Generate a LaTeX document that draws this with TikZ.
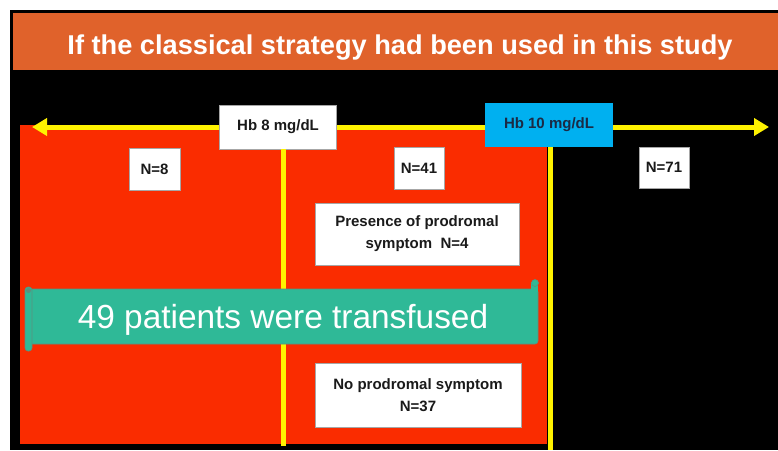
\documentclass[tikz,border=0pt]{standalone}
\usepackage{fontspec}
\setmainfont{Liberation Sans}
\usetikzlibrary{arrows.meta}
\definecolor{SlideOrange}{HTML}{E0622B}
\definecolor{TransRed}{HTML}{FA2C00}
\definecolor{CutYellow}{HTML}{FFF200}
\definecolor{HbCyan}{HTML}{00B0F0}
\definecolor{HbNavy}{HTML}{1B2A45}
\definecolor{ScrollTeal}{HTML}{2FB997}
\definecolor{ScrollEdge}{HTML}{5E8F7E}
\definecolor{BoxText}{HTML}{1A1A1A}

\begin{document}
\begin{tikzpicture}[x=1pt, y=-1pt,
    nbox/.style={draw=gray!70, fill=white, inner sep=0pt, text=BoxText,
                 font=\bfseries\fontsize{15}{22}\selectfont, align=center},
    cutline/.style={draw=CutYellow, line width=5pt}]
    \useasboundingbox (0,0) rectangle (778,450);
    \fill[white] (0,0) rectangle (778,450);
    \fill[black] (10,10) rectangle (778,450);

    % title banner
    \fill[SlideOrange] (13,13) rectangle (778,70);
    \node[anchor=base, inner sep=0pt, text=white, font=\bfseries\fontsize{27.2}{32}\selectfont]
          (title) at (400,54) {If the classical strategy had been used in this study};

    % transfused zone
    \fill[TransRed] (20,125) rectangle (547,444);

    % Hb axis
    \coordinate (axlo) at (32,127);
    \coordinate (axhi) at (769,127);
    \draw[cutline, {Triangle[length=15pt,width=17pt]}-{Triangle[length=15pt,width=17pt]}] (axlo) -- (axhi);

    \coordinate (cut8) at (283,446);
    \coordinate (cut10) at (550,450);
    \node[nbox, minimum width=117pt, minimum height=44pt] (hb8) at (278,127) {Hb 8 mg/dL};
    \node[nbox, draw=none, fill=HbCyan, text=HbNavy, minimum width=128pt, minimum height=44pt] (hb10) at (549,125) {Hb 10 mg/dL};
    \draw[cutline] (cut8 |- hb8.south) -- (cut8);
    \draw[cutline] (cut10 |- hb10.south) -- (cut10);

    % group sizes
    \node[nbox, minimum width=51pt, minimum height=42pt] (n8) at (154.5,169) {N=8};
    \node[nbox, minimum width=50pt, minimum height=42pt] (n41) at (419,168) {N=41};
    \node[nbox, minimum width=50pt, minimum height=41pt] (n71) at (664,167.5) {N=71};
    \node[nbox, minimum width=204pt, minimum height=62pt] (pres) at (417,234) {Presence of prodromal\\symptom\ \ N=4};
    \node[nbox, minimum width=206pt, minimum height=64pt] (nopro) at (418,395) {No prodromal symptom\\N=37};

    % scroll banner
    \fill[ScrollTeal, draw=ScrollEdge, line width=0.6pt, rounded corners=3pt] (29,289) rectangle (538,344);
    \fill[ScrollTeal] (531,282) rectangle (538,292);
    \fill[ScrollTeal, draw=ScrollEdge, line width=0.6pt] (535,283) circle (3.5);
    \fill[ScrollTeal, draw=ScrollEdge, line width=0.6pt, rounded corners=3pt] (25,287) rectangle (32,351);
    \fill[ScrollEdge] (28.5,290.5) circle (2.5);
    \node[anchor=base, text=white, inner sep=0pt, font=\fontsize{33.4}{38}\selectfont] (tf) at (283,328) {49 patients were transfused};
\end{tikzpicture}
\end{document}
